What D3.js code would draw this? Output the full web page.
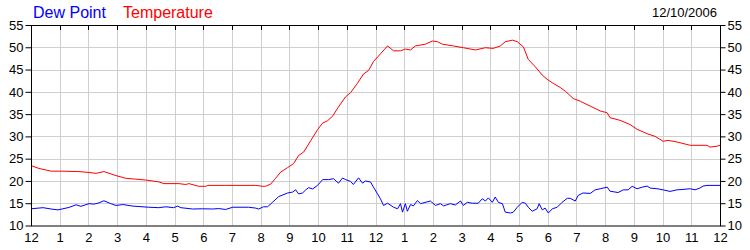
<!DOCTYPE html>
<html>
<head>
<meta charset="utf-8">
<script src="https://cdn.jsdelivr.net/npm/d3@7"></script>
<style>
  body { margin: 0; background: #fff; }
  svg { display: block; font-family: "Liberation Sans", Arial, sans-serif; }
</style>
</head>
<body>
<div id="chart"></div>
<script>
// hours since midnight, value in degrees
const temperature = [
  [0, 23.5], [0.06, 23.3], [0.28, 22.8], [0.70, 22.2], [1.04, 22.2], [1.67, 22.1],
  [2.02, 21.9], [2.26, 21.7], [2.54, 22.1], [2.96, 21.2], [3.30, 20.6], [3.65, 20.4],
  [4.00, 20.2], [4.45, 19.8], [4.63, 19.4], [5.15, 19.4], [5.39, 19.2], [5.50, 19.4],
  [5.84, 18.8], [6.09, 18.8], [6.16, 19.0], [6.78, 19.0], [7.83, 19.0], [8.07, 18.8],
  [8.17, 18.8], [8.35, 19.3], [8.52, 20.6], [8.70, 22.0], [8.94, 23.0], [9.15, 23.9],
  [9.32, 25.7], [9.50, 26.5], [9.74, 29.0], [9.98, 31.5], [10.16, 33.0], [10.33, 33.5],
  [10.50, 34.5], [10.71, 36.6], [10.96, 38.9], [11.13, 39.8], [11.37, 41.9], [11.58, 44.0],
  [11.76, 44.8], [11.93, 46.8], [12.10, 48.0], [12.42, 50.3], [12.63, 49.2], [12.87, 49.2],
  [13.04, 49.6], [13.22, 49.4], [13.39, 50.3], [13.74, 50.7], [13.98, 51.4], [14.16, 51.25],
  [14.33, 50.7], [14.71, 50.3], [15.06, 49.9], [15.48, 49.4], [15.83, 49.9], [16.10, 49.75],
  [16.35, 50.3], [16.52, 51.25], [16.77, 51.6], [16.94, 51.25], [17.15, 50.1], [17.32, 47.3],
  [17.57, 45.6], [17.81, 43.75], [17.98, 42.8], [18.19, 41.9], [18.43, 41.0], [18.61, 40.15],
  [18.89, 38.5], [19.13, 37.9], [19.48, 36.8], [19.83, 35.7], [20.07, 35.3], [20.17, 34.2],
  [20.52, 33.6], [20.87, 32.65], [21.11, 31.6], [21.46, 30.6], [21.74, 30.0], [22.02, 28.9],
  [22.19, 29.1], [22.50, 28.75], [22.96, 28.0], [23.55, 28.0], [23.65, 27.6], [23.90, 27.8],
  [24, 28.0]
];

const dewPoint = [
  [0, 13.75], [0.42, 14.0], [0.70, 13.7], [0.94, 13.5], [1.11, 13.75], [1.32, 14.05],
  [1.57, 14.65], [1.74, 14.3], [2.02, 14.9], [2.19, 14.8], [2.33, 15.0], [2.54, 15.55],
  [2.78, 14.9], [2.96, 14.5], [3.20, 14.7], [3.55, 14.35], [4.10, 14.1], [4.45, 14.0],
  [4.70, 14.2], [4.97, 14.0], [5.11, 14.35], [5.22, 14.0], [5.63, 13.7], [5.98, 13.75],
  [6.33, 13.7], [6.54, 13.8], [6.78, 13.6], [7.03, 14.1], [7.58, 14.1], [7.83, 13.9],
  [7.93, 13.7], [8.10, 14.2], [8.24, 14.2], [8.42, 15.25], [8.63, 16.5], [8.94, 17.3],
  [9.11, 17.5], [9.22, 18.0], [9.32, 17.1], [9.46, 17.3], [9.57, 18.0], [9.67, 18.5],
  [9.81, 18.2], [9.98, 19.0], [10.16, 20.3], [10.37, 20.3], [10.54, 20.5], [10.71, 19.5],
  [10.85, 20.65], [10.96, 20.3], [11.13, 19.9], [11.23, 19.2], [11.41, 20.7], [11.55, 19.5],
  [11.65, 20.0], [11.83, 19.75], [11.93, 18.6], [12.07, 17.1], [12.17, 16.0], [12.28, 14.5],
  [12.42, 15.0], [12.63, 14.1], [12.77, 13.75], [12.87, 14.9], [12.94, 13.0], [13.04, 14.9],
  [13.11, 13.2], [13.22, 14.7], [13.32, 14.4], [13.46, 15.6], [13.57, 14.9], [13.91, 15.5],
  [14.09, 14.5], [14.26, 14.9], [14.37, 14.4], [14.61, 14.9], [14.78, 14.6], [14.96, 15.5],
  [15.06, 14.5], [15.20, 15.2], [15.37, 15.0], [15.58, 15.0], [15.72, 16.0], [15.83, 15.5],
  [15.93, 16.2], [16.07, 15.2], [16.17, 16.4], [16.28, 15.2], [16.42, 14.9], [16.52, 13.0],
  [16.70, 12.8], [16.80, 13.0], [16.94, 14.1], [17.11, 15.2], [17.22, 15.0], [17.32, 14.1],
  [17.46, 13.2], [17.63, 13.75], [17.70, 14.9], [17.81, 13.5], [17.91, 13.9], [18.02, 12.8],
  [18.16, 13.75], [18.33, 14.1], [18.50, 15.2], [18.68, 16.1], [18.78, 16.1], [18.96, 15.5],
  [19.06, 16.75], [19.23, 17.3], [19.48, 17.2], [19.65, 18.0], [19.83, 18.25], [20.07, 18.6],
  [20.17, 17.7], [20.45, 17.4], [20.63, 18.0], [20.80, 18.0], [20.94, 18.8], [21.11, 18.25],
  [21.29, 18.6], [21.46, 18.85], [21.57, 18.4], [21.81, 18.25], [22.02, 18.0], [22.26, 17.65],
  [22.50, 18.0], [22.71, 18.1], [22.96, 18.25], [23.13, 18.0], [23.30, 18.4], [23.41, 18.85],
  [23.55, 19.0], [24, 19.0]
];

const hourTicks = d3.range(0, 25);
const hourLabels = ["12", "1", "2", "3", "4", "5", "6", "7", "8", "9", "10", "11",
                    "12", "1", "2", "3", "4", "5", "6", "7", "8", "9", "10", "11", "12"];
const valueTicks = [10, 15, 20, 25, 30, 35, 40, 45, 50, 55];
const seriesNames = ["Dew Point", "Temperature"];
const seriesColors = ["#0000ff", "#ff0000"];
const dateLabel = "12/10/2006";

const width = 750;
const height = 250;
const marginTop = 25;
const marginRight = 30;
const marginBottom = 24.5;
const marginLeft = 31;

const svg = d3.select("#chart")
  .append("svg")
  .attr("width", width)
  .attr("height", height);

const x = d3.scaleLinear()
  .domain([0, 24])
  .range([marginLeft, width - marginRight]);

const y = d3.scaleLinear()
  .domain([10, 55])
  .range([height - marginBottom, marginTop]);

// grid
svg.append("g")
  .selectAll("line")
  .data(hourTicks.slice(1, -1))
  .enter()
  .append("line")
  .attr("x1", d => Math.round(x(d)) + 0.5)
  .attr("x2", d => Math.round(x(d)) + 0.5)
  .attr("y1", marginTop)
  .attr("y2", height - marginBottom)
  .attr("stroke", "#cfcfcf");

svg.append("g")
  .selectAll("line")
  .data(valueTicks.slice(1, -1))
  .enter()
  .append("line")
  .attr("x1", marginLeft)
  .attr("x2", width - marginRight)
  .attr("y1", d => Math.round(y(d)) + 0.5)
  .attr("y2", d => Math.round(y(d)) + 0.5)
  .attr("stroke", "#cfcfcf");

// series
const line = d3.line()
  .x(d => x(d[0]))
  .y(d => y(d[1]));

[dewPoint, temperature].forEach((series, i) => {
  svg.append("path")
    .datum(series)
    .attr("fill", "none")
    .attr("stroke", seriesColors[i])
    .attr("stroke-width", 1)
    .attr("d", line);
});

// frame
svg.append("rect")
  .attr("x", marginLeft + 0.5)
  .attr("y", marginTop + 0.5)
  .attr("width", width - marginRight - marginLeft)
  .attr("height", height - marginBottom - marginTop)
  .attr("fill", "none")
  .attr("stroke", "#000");

// top ticks pointing inward
svg.append("g")
  .selectAll("line")
  .data(hourTicks)
  .enter()
  .append("line")
  .attr("x1", d => Math.round(x(d)) + 0.5)
  .attr("x2", d => Math.round(x(d)) + 0.5)
  .attr("y1", marginTop)
  .attr("y2", marginTop + 5)
  .attr("stroke", "#000");

function styleAxis(g) {
  g.select(".domain").remove();
  g.selectAll("text").attr("font-size", 13).attr("fill", "#000")
    .attr("font-family", "'Liberation Sans', Arial, sans-serif");
  g.selectAll("line").attr("stroke", "#000");
}

svg.append("g")
  .attr("transform", `translate(${marginLeft + 0.5},0)`)
  .call(d3.axisLeft(y).tickValues(valueTicks).tickSize(6).tickPadding(2))
  .call(styleAxis);

svg.append("g")
  .attr("transform", `translate(${width - marginRight + 0.5},0)`)
  .call(d3.axisRight(y).tickValues(valueTicks).tickSize(5).tickPadding(2))
  .call(styleAxis);

svg.append("g")
  .attr("transform", `translate(0,${height - marginBottom})`)
  .call(d3.axisBottom(x).tickValues(hourTicks).tickFormat((d, i) => hourLabels[i])
    .tickSize(0).tickPadding(7))
  .call(styleAxis);

// legend
svg.append("text")
  .attr("x", 33)
  .attr("y", 18)
  .attr("font-size", 16)
  .attr("fill", seriesColors[0])
  .text(seriesNames[0]);

svg.append("text")
  .attr("x", 123)
  .attr("y", 18)
  .attr("font-size", 16)
  .attr("fill", seriesColors[1])
  .text(seriesNames[1]);

svg.append("text")
  .attr("x", 717)
  .attr("y", 17)
  .attr("font-size", 13)
  .attr("text-anchor", "end")
  .attr("fill", "#000")
  .text(dateLabel);
</script>
</body>
</html>
